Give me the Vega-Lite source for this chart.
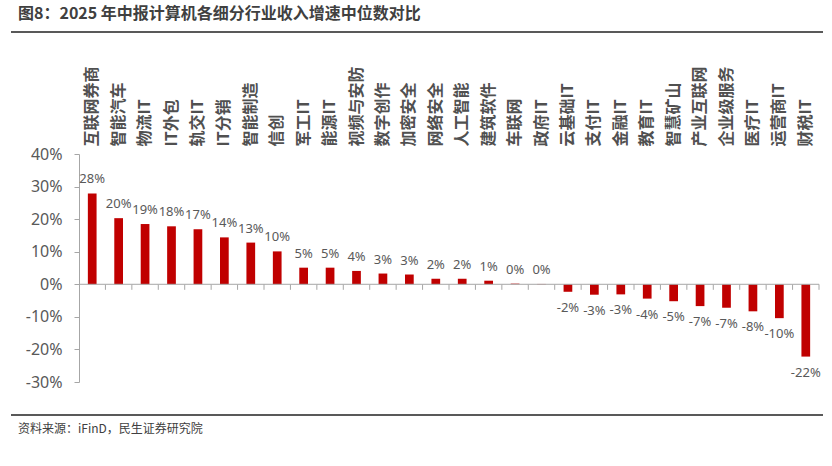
{
  "$schema": "https://vega.github.io/schema/vega-lite/v6.json",
  "autosize": {"type": "pad"},
  "padding": {"left": 10, "right": 10, "top": 6, "bottom": 0},
  "background": "white",
  "spacing": 24,
  "config": {
    "view": {"stroke": null},
    "axis": {"labelOverlap": false},
    "axisY": {"labelOverlap": false},
    "axisQuantitative": {"labelOverlap": false},
    "locale": {"number": {"decimal": ".", "thousands": ",", "grouping": [3], "currency": ["", ""], "minus": "-"}}
  },
  "vconcat": [
    {
      "width": 812,
      "height": 9,
      "data": {"values": [{}]},
      "title": {"text": "图8：2025 年中报计算机各细分行业收入增速中位数对比", "anchor": "start", "fontSize": 16, "fontWeight": "bold", "font": "Noto Sans CJK SC", "color": "#404040", "dx": 8, "offset": 9},
      "mark": {"type": "rule", "color": "#595959", "strokeWidth": 2},
      "encoding": {"y": {"datum": 1, "type": "quantitative", "scale": {"domain": [0, 1]}, "axis": null}}
    },
    {
      "width": 812,
      "height": 228,
      "data": {"values": [
        {"name": "互联网券商", "value": 0.279},
        {"name": "智能汽车", "value": 0.203},
        {"name": "物流IT", "value": 0.185},
        {"name": "IT外包", "value": 0.178},
        {"name": "轨交IT", "value": 0.169},
        {"name": "IT分销", "value": 0.144},
        {"name": "智能制造", "value": 0.128},
        {"name": "信创", "value": 0.101},
        {"name": "军工IT", "value": 0.051},
        {"name": "能源IT", "value": 0.051},
        {"name": "视频与安防", "value": 0.041},
        {"name": "数字创作", "value": 0.033},
        {"name": "加密安全", "value": 0.030},
        {"name": "网络安全", "value": 0.017},
        {"name": "人工智能", "value": 0.017},
        {"name": "建筑软件", "value": 0.011},
        {"name": "车联网", "value": 0.002},
        {"name": "政府IT", "value": 0.001},
        {"name": "云基础IT", "value": -0.023},
        {"name": "支付IT", "value": -0.032},
        {"name": "金融IT", "value": -0.031},
        {"name": "教育IT", "value": -0.044},
        {"name": "智慧矿山", "value": -0.052},
        {"name": "产业互联网", "value": -0.067},
        {"name": "企业级服务", "value": -0.072},
        {"name": "医疗IT", "value": -0.083},
        {"name": "运营商IT", "value": -0.104},
        {"name": "财税IT", "value": -0.222}
      ]},
      "encoding": {
        "y": {"field": "value", "type": "quantitative",
          "scale": {"domain": [-0.3, 0.4], "nice": false, "zero": false},
          "axis": {"tickCount": 8, "format": ".0%", "offset": -68, "grid": false, "title": null, "domainColor": "#A6A6A6", "tickColor": "#A6A6A6", "tickSize": 5, "labelFontSize": 16, "labelColor": "#595959", "labelPadding": 12, "labelFont": "Noto Sans", "labelOverlap": false}}
      },
      "layer": [
        {
          "mark": {"type": "bar", "color": "#C00000", "width": {"band": 0.33}},
          "encoding": {
            "x": {"field": "name", "type": "nominal", "sort": null,
              "scale": {"paddingInner": 0, "paddingOuter": 0, "range": [68, 808]},
              "axis": {"orient": "top", "title": null, "domain": false, "ticks": false, "labelAngle": -90, "labelAlign": "left", "labelBaseline": "middle", "labelPadding": 8, "labelFontSize": 16, "labelFont": "Noto Sans CJK SC", "labelFontWeight": "bold", "labelColor": "#505050", "labelOverlap": false, "labelLimit": 200}}
          }
        },
        {
          "mark": {"type": "rule", "color": "#A6A6A6", "strokeWidth": 1},
          "encoding": {
            "x": {"field": "name", "type": "nominal", "sort": null, "bandPosition": 0},
            "x2": {"field": "name", "bandPosition": 1},
            "y": {"datum": 0, "type": "quantitative"}
          }
        },
        {
          "mark": {"type": "rule", "color": "#A6A6A6", "strokeWidth": 1},
          "encoding": {
            "x": {"field": "name", "type": "nominal", "sort": null, "bandPosition": 1},
            "y": {"datum": 0, "type": "quantitative"},
            "y2": {"datum": -0.017}
          }
        },
        {
          "transform": [{"filter": "datum.value >= 0"}],
          "mark": {"type": "text", "baseline": "alphabetic", "dy": -10, "fontSize": 13, "color": "#595959", "font": "Noto Sans"},
          "encoding": {
            "x": {"field": "name", "type": "nominal", "sort": null},
            "text": {"field": "value", "type": "quantitative", "format": ".0%"}
          }
        },
        {
          "transform": [{"filter": "datum.value < 0"}],
          "mark": {"type": "text", "baseline": "top", "dy": 10, "fontSize": 13, "color": "#595959", "font": "Noto Sans"},
          "encoding": {
            "x": {"field": "name", "type": "nominal", "sort": null},
            "text": {"field": "value", "type": "quantitative", "format": ".0%"}
          }
        }
      ]
    },
    {
      "width": 812,
      "height": 1,
      "data": {"values": [{}]},
      "title": {"text": "资料来源：iFinD，民生证券研究院", "orient": "bottom", "anchor": "start", "fontSize": 12, "fontWeight": "normal", "font": "Noto Sans CJK SC", "color": "#404040", "dx": 8, "offset": 8},
      "mark": {"type": "rule", "color": "#595959", "strokeWidth": 2},
      "encoding": {"y": {"datum": 1, "type": "quantitative", "scale": {"domain": [0, 1]}, "axis": null}}
    }
  ]
}
